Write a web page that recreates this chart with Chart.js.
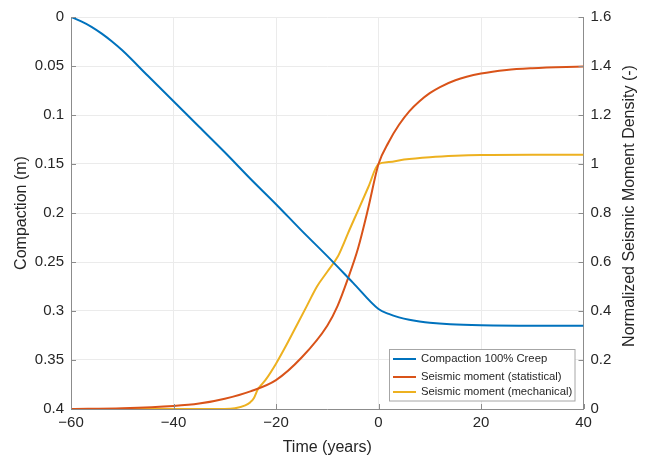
<!DOCTYPE html>
<html>
<head>
<meta charset="utf-8">
<script src="https://cdn.jsdelivr.net/npm/chart.js@4.4.1/dist/chart.umd.min.js"></script>
<style>
  html, body { margin: 0; padding: 0; background: #ffffff; }
  #wrap { width: 645px; height: 459px; }
</style>
</head>
<body>
<div id="wrap"><canvas id="chart" width="645" height="459"></canvas></div>
<script>
// ── DATA ───────────────────────────────────────────────────
const TIME_TICKS       = [-60, -40, -20, 0, 20, 40];
const COMPACTION_TICKS = [0, 0.05, 0.1, 0.15, 0.2, 0.25, 0.3, 0.35, 0.4];
const MOMENT_TICKS     = [0, 0.2, 0.4, 0.6, 0.8, 1, 1.2, 1.4, 1.6];

const SERIES_LABELS = [
  "Compaction 100% Creep",
  "Seismic moment (statistical)",
  "Seismic moment (mechanical)",
];

const TIME_COMPACTION = [-60, -58, -56, -54, -52, -50, -45, -40, -35, -30, -25, -20, -15, -10, -5, 0, 2, 4, 6, 8, 10, 14, 20, 30, 40];
const COMPACTION      = [0, 0.0045, 0.010, 0.017, 0.025, 0.034, 0.060, 0.086, 0.112, 0.138, 0.165, 0.191, 0.218, 0.244, 0.271, 0.298, 0.303, 0.3065, 0.309, 0.3107, 0.312, 0.3135, 0.3145, 0.315, 0.315];

const TIME_STAT   = [-60, -50, -40, -35, -30, -25, -20, -15, -10, -8, -6, -4, -2, 0, 2, 4, 6, 8, 10, 12, 15, 20, 25, 30, 40];
const MOMENT_STAT = [0, 0.003, 0.012, 0.022, 0.042, 0.072, 0.118, 0.21, 0.34, 0.42, 0.53, 0.655, 0.82, 1.0, 1.09, 1.16, 1.215, 1.256, 1.289, 1.314, 1.342, 1.369, 1.384, 1.391, 1.398];

const TIME_MECH   = [-60, -30, -28, -26, -25, -24.3, -23.6, -23, -22, -20, -18, -16, -14, -12, -10, -8, -7, -6, -4, -2, 0, 2, 5, 10, 15, 20, 30, 40];
const MOMENT_MECH = [0, 0, 0.003, 0.015, 0.028, 0.045, 0.078, 0.095, 0.12, 0.185, 0.26, 0.34, 0.42, 0.50, 0.56, 0.62, 0.665, 0.715, 0.81, 0.905, 1.0, 1.008, 1.018, 1.028, 1.034, 1.037, 1.038, 1.038];

const COLORS = ["#0072BD", "#D95319", "#EDB120"];

// ── STYLE ──────────────────────────────────────────────────
const FONT      = "'Liberation Sans', Arial, Helvetica, sans-serif";
const TEXT      = "#262626";
const AXIS      = "#8c8c8c";
const GRID      = "#ebebeb";

const toPoints = (xs, ys) => xs.map((x, i) => ({ x: x, y: ys[i] }));
const setTicks = arr => scale => { scale.ticks = arr.map(v => ({ value: v })); };
const fmt      = v => String(+Number(v).toFixed(2)).replace("-", "\u2212");

// Inward ticks, axis titles (right one reads bottom-to-top) and the inset legend
const decorPlugin = {
  id: "decor",
  afterDraw(chart) {
    const ctx = chart.ctx;
    const a   = chart.chartArea;
    const sx  = chart.scales.x, sy = chart.scales.y, sy1 = chart.scales.y1;
    const L   = 5;

    ctx.save();
    ctx.strokeStyle = AXIS;
    ctx.lineWidth = 1;
    ctx.beginPath();
    TIME_TICKS.forEach(v => {
      const px = Math.round(sx.getPixelForValue(v)) + 0.5;
      ctx.moveTo(px, a.bottom); ctx.lineTo(px, a.bottom - L);
    });
    COMPACTION_TICKS.forEach(v => {
      const py = Math.round(sy.getPixelForValue(v)) + 0.5;
      ctx.moveTo(a.left, py); ctx.lineTo(a.left + L, py);
    });
    MOMENT_TICKS.forEach(v => {
      const py = Math.round(sy1.getPixelForValue(v)) + 0.5;
      ctx.moveTo(a.right, py); ctx.lineTo(a.right - L, py);
    });
    ctx.stroke();

    // axis titles
    ctx.fillStyle = TEXT;
    ctx.textAlign = "center";
    ctx.textBaseline = "middle";
    ctx.font = "16px " + FONT;
    ctx.fillText("Time (years)", (a.left + a.right) / 2, 448);

    ctx.save();
    ctx.translate(22, 213);
    ctx.rotate(-Math.PI / 2);
    ctx.fillText("Compaction (m)", 0, 0);
    ctx.restore();

    ctx.save();
    ctx.translate(630, 206);
    ctx.rotate(-Math.PI / 2);
    ctx.fillText("Normalized Seismic Moment Density (-)", 0, 0);
    ctx.restore();

    // legend box
    const bx = 389.5, by = 349.5, bw = 185.5, bh = 51.5;
    ctx.fillStyle = "#ffffff";
    ctx.fillRect(bx, by, bw, bh);
    ctx.strokeStyle = "#a6a6a6";
    ctx.strokeRect(bx, by, bw, bh);
    const rows = [359, 377, 392];
    ctx.font = "11.3px " + FONT;
    ctx.textAlign = "left";
    chart.data.datasets.forEach((ds, i) => {
      ctx.strokeStyle = ds.borderColor;
      ctx.lineWidth = 2;
      ctx.beginPath();
      ctx.moveTo(393, rows[i]); ctx.lineTo(416, rows[i]);
      ctx.stroke();
      ctx.fillStyle = TEXT;
      ctx.fillText(ds.label, 421, rows[i]);
    });
    ctx.restore();
  },
};

const datasets = [
  { label: SERIES_LABELS[0], data: toPoints(TIME_COMPACTION, COMPACTION), yAxisID: "y",  borderColor: COLORS[0] },
  { label: SERIES_LABELS[1], data: toPoints(TIME_STAT, MOMENT_STAT),      yAxisID: "y1", borderColor: COLORS[1] },
  { label: SERIES_LABELS[2], data: toPoints(TIME_MECH, MOMENT_MECH),      yAxisID: "y1", borderColor: COLORS[2] },
].map(d => Object.assign(d, {
  borderWidth: 2,
  pointRadius: 0,
  fill: false,
  cubicInterpolationMode: "monotone",
}));

new Chart(document.getElementById("chart"), {
  type: "line",
  data: { datasets },
  options: {
    responsive: false,
    animation: false,
    devicePixelRatio: 1,
    layout: { padding: { top: 17, left: 0, right: 0, bottom: 0 } },
    plugins: { legend: { display: false }, tooltip: { enabled: false } },
    scales: {
      x: {
        type: "linear",
        min: -60, max: 40,
        afterBuildTicks: setTicks(TIME_TICKS),
        afterFit: s => { s.height = 50; },
        grid:   { color: GRID, drawTicks: false },
        border: { display: true, color: AXIS },
        ticks:  { color: TEXT, font: { family: FONT, size: 15 }, padding: 5, callback: fmt, maxRotation: 0 },
      },
      y: {
        position: "left",
        min: 0, max: 0.4,
        reverse: true,
        afterBuildTicks: setTicks(COMPACTION_TICKS),
        afterFit: s => { s.width = 71; },
        grid:   { color: GRID, drawTicks: false },
        border: { display: true, color: AXIS },
        ticks:  { color: TEXT, font: { family: FONT, size: 15 }, padding: 7, callback: fmt },
      },
      y1: {
        position: "right",
        min: 0, max: 1.6,
        afterBuildTicks: setTicks(MOMENT_TICKS),
        afterFit: s => { s.width = 61.5; },
        grid:   { display: false, drawTicks: false },
        border: { display: true, color: AXIS },
        ticks:  { color: TEXT, font: { family: FONT, size: 15 }, padding: 7, callback: fmt },
      },
    },
  },
  plugins: [decorPlugin],
});
</script>
</body>
</html>
